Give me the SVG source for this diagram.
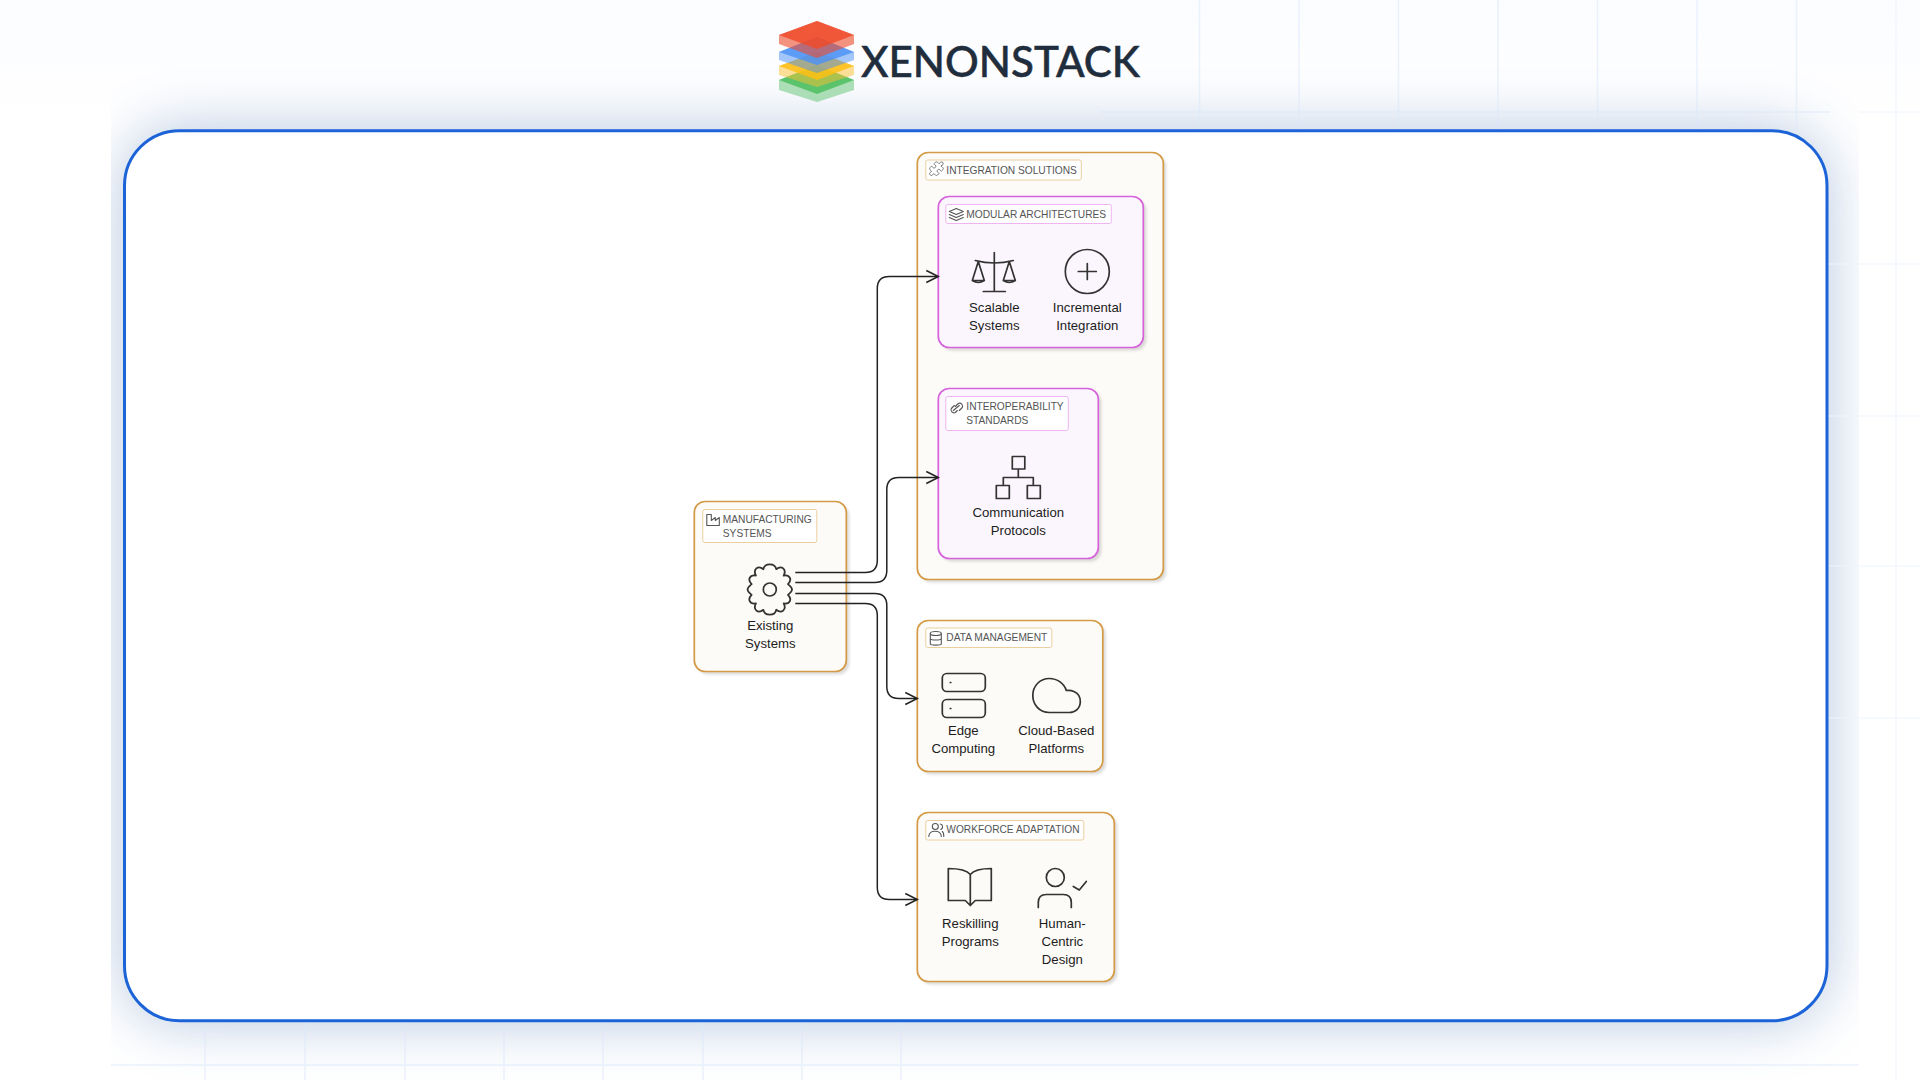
<svg xmlns="http://www.w3.org/2000/svg" width="1920" height="1080" viewBox="0 0 1920 1080">
<style>
.grid{stroke:#dbe7fa;stroke-width:1.5;fill:none;opacity:.55}
.gridf{stroke:#eef4fc;stroke-width:1.5;fill:none;opacity:.7}
.box{rx:11px;ry:11px}
.org{fill:#fcfbf7;stroke:#d49a45;stroke-width:1.7}
.mag{fill:#fbf6fd;stroke:#d762dc;stroke-width:1.7}
.sh{fill:#000;opacity:.14;filter:url(#soft)}
.to{fill:#fff;stroke:#eccf9f;stroke-width:1}
.tm{fill:#fff;stroke:#f0b4f2;stroke-width:1}
.t{font:10.2px "Liberation Sans",Arial,sans-serif;fill:#555;transform:translateY(-1px)}
.l{font:13.2px "Liberation Sans",Arial,sans-serif;fill:#1c1c1c;text-anchor:middle;transform:translateY(-1px)}
.i{fill:none;stroke:#333;stroke-width:1.7;stroke-linecap:round;stroke-linejoin:round}
.s{fill:none;stroke:#555;stroke-width:1.1;stroke-linecap:round;stroke-linejoin:round}
.c{fill:none;stroke:#222;stroke-width:1.5}
</style>
<defs>
<linearGradient id="bgt" x1="0" y1="0" x2="0" y2="1"><stop offset="0" stop-color="#fbfcff"/><stop offset="1" stop-color="#ffffff"/></linearGradient>
<filter id="blur" x="-10%" y="-15%" width="120%" height="130%"><feGaussianBlur stdDeviation="30"/></filter>
<filter id="soft" x="-10%" y="-10%" width="120%" height="120%"><feGaussianBlur stdDeviation="1.5"/></filter>
<clipPath id="cl"><rect x="111" y="0" width="1748" height="1080"/></clipPath>
<marker id="arr" markerUnits="userSpaceOnUse" markerWidth="16" markerHeight="16" refX="13" refY="8" orient="auto"><path d="M1,2 L13,8 L1,14" fill="none" stroke="#222" stroke-width="1.5"/></marker>
</defs>
<rect width="1920" height="1080" fill="#fff"/>
<rect width="1920" height="130" fill="url(#bgt)"/>
<g clip-path="url(#cl)"><rect x="124" y="130" width="1703" height="891" rx="55" fill="#2a5ea8" opacity=".36" filter="url(#blur)"/></g>
<path class="grid" d="M1199.500,0V130M1299,0V130M1398.500,0V130M1498,0V130M1597.500,0V130M1697,0V130M1796.500,0V130M1100,112H1830M205,1021V1080M305,1021V1080M405,1021V1080M504,1021V1080M603,1021V1080M703,1021V1080M802,1021V1080M901,1021V1080M111,1065H1859"/>
<path class="gridf" d="M1896,0V1080M1859,112H1920M1827,264H1920M1827,416H1920M1827,566H1920M1827,718H1920"/>
<g id="logo">
<path d="M779,80 817,65 854,80V90L817,102 779,90Z" fill="#2fb344" opacity=".38"/>
<path d="M779,80 817,65 854,80 817,94Z" fill="#2fb344" opacity=".65"/>
<path d="M779,66 817,52 854,66V75L817,87 779,75Z" fill="#fbc02d" opacity=".5"/>
<path d="M779,66 817,52 854,66 817,80Z" fill="#fbc015" opacity=".85"/>
<path d="M779,52 817,37 854,52V60L817,73 779,60Z" fill="#4a90f5" opacity=".5"/>
<path d="M779,52 817,37 854,52 817,65Z" fill="#4a90f5" opacity=".8"/>
<path d="M779,35 817,21 854,35V44L817,58 779,44Z" fill="#ee4b2b" opacity=".6"/>
<path d="M779,35 817,21 854,35 817,49Z" fill="#ee4b2b" opacity=".85"/>
<text x="861" y="77" font-family="Lato,'Liberation Sans',sans-serif" font-size="42" font-weight="500" fill="#1f2d3d" stroke="#1f2d3d" stroke-width=".5" textLength="279" lengthAdjust="spacingAndGlyphs">XENONSTACK</text>
</g>
<rect id="frame" x="124.500" y="130.700" width="1702.500" height="890" rx="55" fill="#fff" stroke="#1c63d8" stroke-width="3"/>
<g transform="translate(0.3,0.5)">
<g id="integration-solutions">
<rect class="box sh" x="920" y="155" width="246" height="427"/>
<rect class="box org" x="917" y="152" width="246" height="427"/>
<rect class="to" x="925.500" y="159.500" width="155.500" height="20" rx="2"/>
<path class="s" stroke-width="1.600" transform="translate(928,160) scale(.68)" d="M19.439 7.85c-.049.322.059.648.289.878l1.568 1.568c.47.47.706 1.087.706 1.704s-.235 1.233-.706 1.704l-1.611 1.611a.98.98 0 0 1-.837.276c-.47-.07-.802-.48-.968-.925a2.501 2.501 0 1 0-3.214 3.214c.446.166.855.497.925.968a.979.979 0 0 1-.276.837l-1.61 1.61a2.404 2.404 0 0 1-1.705.707 2.402 2.402 0 0 1-1.704-.706l-1.568-1.568a1.026 1.026 0 0 0-.877-.29c-.493.074-.84.504-1.02.968a2.5 2.5 0 1 1-3.237-3.237c.464-.18.894-.527.967-1.02a1.026 1.026 0 0 0-.289-.877l-1.568-1.568A2.402 2.402 0 0 1 1.998 12c0-.617.236-1.234.706-1.704L4.23 8.77c.24-.24.581-.353.917-.303.515.077.877.528 1.073 1.01a2.5 2.5 0 1 0 3.259-3.259c-.482-.196-.933-.558-1.01-1.073-.05-.336.062-.676.303-.917l1.525-1.525A2.402 2.402 0 0 1 12 1.998c.617 0 1.234.236 1.704.706l1.568 1.568c.23.23.556.338.877.29.493-.074.84-.504 1.02-.968a2.5 2.5 0 1 1 3.237 3.237c-.464.18-.894.527-.967 1.02Z"/>
<text class="t" x="946" y="174">INTEGRATION SOLUTIONS</text>
</g>
<g id="modular-architectures">
<rect class="box sh" x="941" y="199" width="205" height="151"/>
<rect class="box mag" x="938" y="196" width="205" height="151"/>
<rect class="tm" x="945.500" y="204" width="165.500" height="19" rx="2"/>
<path class="s" d="M956,208l7,3-7,3-7-3ZM949,214l7,3 7-3M949,217l7,3 7-3"/>
<text class="t" x="966" y="218">MODULAR ARCHITECTURES</text>
</g>
<g id="scalable-systems">
<path class="i" d="M994,252V291M983,291H1005M975,260Q994,265 1013,260M978,261L972,280Q978,284 984,280L978,261M1009,261L1003,280Q1009,284 1015,280L1009,261M972,280H984M1003,280H1015"/>
<text class="l" x="994" y="312">Scalable</text><text class="l" x="994" y="330">Systems</text>
</g>
<g id="incremental-integration">
<circle class="i" cx="1087" cy="271" r="22"/><path class="i" d="M1087,263V279M1078,271H1096" stroke-width="1.300"/>
<text class="l" x="1087" y="312">Incremental</text><text class="l" x="1087" y="330">Integration</text>
</g>
<g id="interoperability-standards">
<rect class="box sh" x="941" y="391" width="160" height="170"/>
<rect class="box mag" x="938" y="388" width="160" height="170"/>
<rect class="tm" x="945.500" y="396" width="122.500" height="34" rx="2"/>
<path class="s" d="M954,405l-3,3a3,3 0 0 0 4,4l2-2M955,406l3-3a3,3 0 0 1 4,4l-3,3M953,410l6-5"/>
<text class="t" x="966" y="410">INTEROPERABILITY</text><text class="t" x="966" y="424">STANDARDS</text>
</g>
<g id="communication-protocols">
<path class="i" d="M1012,456H1024.500V468.500H1012ZM996,485H1009V498H996ZM1027,485H1040V498H1027ZM1018,468.500V477M1003,485V477H1033V485"/>
<text class="l" x="1018" y="517">Communication</text><text class="l" x="1018" y="535">Protocols</text>
</g>
<g id="manufacturing-systems">
<rect class="box sh" x="697" y="504" width="152" height="170"/>
<rect class="box org" x="694" y="501" width="152" height="170"/>
<rect class="to" x="702.500" y="509" width="114" height="33" rx="2"/>
<path class="s" d="M706.500,514V525H719V517L715,520V517L711,520V514Z"/>
<text class="t" x="722.500" y="523">MANUFACTURING</text><text class="t" x="722.500" y="537">SYSTEMS</text>
</g>
<g id="existing-systems">
<path class="i" transform="translate(769.500,589) scale(1.07) translate(-770,-587)" d="M787,592C791,596 789,601 783,600C786,606 781,610 776,606C775,612 765,612 764,606C759,610 754,606 757,600C751,601 749,596 753,592C748,588 748,586 753,582C749,578 751,573 757,574C754,568 759,564 764,568C765,562 775,562 776,568C781,564 786,568 783,574C789,573 791,578 787,582C792,586 792,588 787,592Z"/>
<circle class="i" cx="769.500" cy="589" r="6.500"/>
<text class="l" x="770" y="630">Existing</text><text class="l" x="770" y="648">Systems</text>
</g>
<g id="data-management">
<rect class="box sh" x="920" y="623" width="185.500" height="151"/>
<rect class="box org" x="917" y="620" width="185.500" height="151"/>
<rect class="to" x="925.500" y="627.500" width="126" height="19.500" rx="2"/>
<ellipse class="s" cx="935.500" cy="633" rx="5.500" ry="2"/><path class="s" d="M930,633V643.500C930,645 941,645 941,643.500V633M930,638C930,640 941,640 941,638"/>
<text class="t" x="946" y="641">DATA MANAGEMENT</text>
</g>
<g id="edge-computing">
<rect class="i" x="942" y="673" width="43" height="18" rx="4.500"/><rect class="i" x="942" y="699" width="43" height="18" rx="4.500"/>
<path class="i" d="M950,682h.5M950,708h.5" stroke-width="1"/>
<text class="l" x="963" y="735">Edge</text><text class="l" x="963" y="753">Computing</text>
</g>
<g id="cloud-based-platforms">
<path class="i" d="M1049,712C1039,712 1032.500,704 1032.500,695C1032.500,685 1040,678 1049,678C1057,678 1064,683 1066,690C1069,689.500 1080,690 1080,701C1080,708 1075,712 1069,712Z"/>
<text class="l" x="1056" y="735">Cloud-Based</text><text class="l" x="1056" y="753">Platforms</text>
</g>
<g id="workforce-adaptation">
<rect class="box sh" x="920" y="815" width="197" height="169"/>
<rect class="box org" x="917" y="812" width="197" height="169"/>
<rect class="to" x="925.500" y="820" width="158" height="19.500" rx="2"/>
<circle class="s" cx="935" cy="826" r="3"/><path class="s" d="M928.500,836C928.500,829 941,829 941,836M940,823.500C943,824 943,828 940.500,829M942,831C943.500,832 943.500,834 943.500,836"/>
<text class="t" x="946" y="833">WORKFORCE ADAPTATION</text>
</g>
<g id="reskilling-programs">
<path class="i" d="M970,874C966,869 958,868 948,868V900H965L970,905L975,900H991V868C981,868 974,869 970,874V905"/>
<text class="l" x="970" y="928">Reskilling</text><text class="l" x="970" y="946">Programs</text>
</g>
<g id="human-centric-design">
<circle class="i" cx="1055" cy="877" r="9"/><path class="i" d="M1038,907V902C1038,897 1041,894 1046,894H1063C1068,894 1071,897 1071,902V907M1073,886L1079,889.500L1086,881"/>
<text class="l" x="1062" y="928">Human-</text><text class="l" x="1062" y="946">Centric</text><text class="l" x="1062" y="964">Design</text>
</g>
<g id="connectors">
<path class="c" marker-end="url(#arr)" d="M795,572H865Q877,572 877,560V288Q877,276 889,276H938"/>
<path class="c" marker-end="url(#arr)" d="M795,582H874.500Q886.500,582 886.500,570V489Q886.500,477 898.500,477H938"/>
<path class="c" marker-end="url(#arr)" d="M795,593H874.500Q886.500,593 886.500,605V686Q886.500,698 898.500,698H917"/>
<path class="c" marker-end="url(#arr)" d="M795,603H865Q877,603 877,615V887Q877,899 889,899H917"/>
</g>
</g>
</svg>
